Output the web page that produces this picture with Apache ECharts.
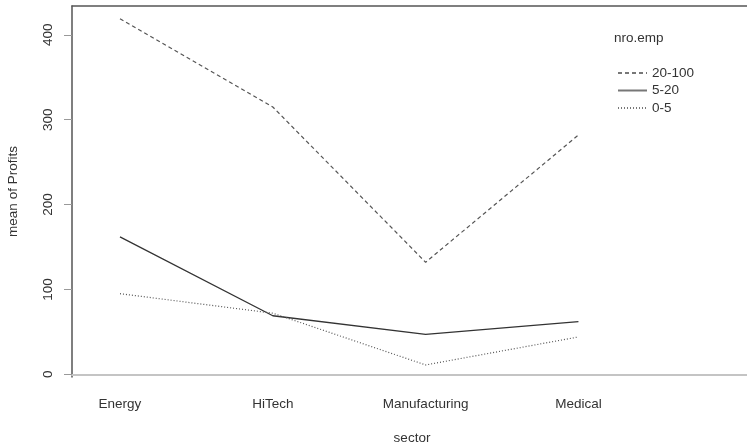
<!DOCTYPE html>
<html>
<head>
<meta charset="utf-8">
<script src="https://cdn.jsdelivr.net/npm/echarts@6/dist/echarts.min.js"></script>
<style>html,body{margin:0;padding:0;background:#fff}#c{width:747px;height:446px}</style>
</head>
<body>
<div id="c"></div>
<script>
const categories = ['Energy', 'HiTech', 'Manufacturing', 'Medical'];
const groups = ['20-100', '5-20', '0-5'];
const s20_100 = [419, 315, 132, 282];
const s5_20 = [162, 69, 47, 62];
const s0_5 = [95, 72, 11, 44];
const yTicks = [0, 100, 200, 300, 400];
const xPos = [1, 2, 3, 4];

const FONT = '"Liberation Sans", Arial, sans-serif';
const FS = 13.5;
const chart = echarts.init(document.getElementById('c'));

function pts(arr) { return arr.map((v, i) => [xPos[i], v]); }

const option = {
  animation: false,
  backgroundColor: '#fff',
  textStyle: { fontFamily: FONT },
  title: {
    text: 'nro.emp', left: 609, top: 26,
    textStyle: { fontFamily: FONT, fontSize: FS, fontWeight: 'normal', color: '#333' }
  },
  legend: {
    orient: 'vertical', left: 612, top: 61,
    itemWidth: 29, itemHeight: 10, itemGap: 3.5,
    itemStyle: { opacity: 0 },
    lineStyle: { color: '#777' },
    textStyle: { fontFamily: FONT, fontSize: FS, color: '#333' },
    data: groups
  },
  grid: { left: 72, right: 0, top: 6, bottom: 69, containLabel: false, outerBoundsMode: 'none' },
  xAxis: [{
    type: 'value', min: 0.686, max: 5.103, position: 'bottom',
    name: 'sector', nameLocation: 'middle', nameGap: 54,
    nameTextStyle: { fontFamily: FONT, fontSize: FS, color: '#333', padding: [0, 0, 0, 5] },
    axisLine: { show: true, lineStyle: { color: '#c4c4c4', width: 2 } },
    axisTick: { show: false },
    splitLine: { show: false },
    axisLabel: {
      customValues: xPos, margin: 20, fontFamily: FONT, fontSize: FS, color: '#333',
      formatter: v => categories[Math.round(v) - 1] || ''
    }
  }, {
    type: 'value', min: 0.686, max: 5.103, position: 'top',
    axisLine: { show: true, lineStyle: { color: '#555', width: 1.5 } },
    axisTick: { show: false }, axisLabel: { show: false }, splitLine: { show: false }
  }],
  yAxis: {
    type: 'value', min: -3.2, max: 434,
    name: 'mean of Profits', nameLocation: 'middle', nameGap: 52, nameRotate: 90,
    nameTextStyle: { fontFamily: FONT, fontSize: FS, color: '#333' },
    axisLine: { show: true, lineStyle: { color: '#555', width: 1.5 } },
    axisTick: { show: true, inside: false, length: 8, customValues: yTicks, lineStyle: { color: '#999' } },
    splitLine: { show: false },
    axisLabel: { customValues: yTicks, rotate: 90, margin: 17, fontFamily: FONT, fontSize: FS, color: '#333' }
  },
  series: [
    { name: groups[0], type: 'line', data: pts(s20_100), symbol: 'none',
      lineStyle: { color: '#555', width: 1.2, type: [4, 3] } },
    { name: groups[1], type: 'line', data: pts(s5_20), symbol: 'none',
      lineStyle: { color: '#333', width: 1.3, type: 'solid' } },
    { name: groups[2], type: 'line', data: pts(s0_5), symbol: 'none',
      lineStyle: { color: '#555', width: 1.2, type: [1, 2] } }
  ]
};
chart.setOption(option);
</script>
</body>
</html>
